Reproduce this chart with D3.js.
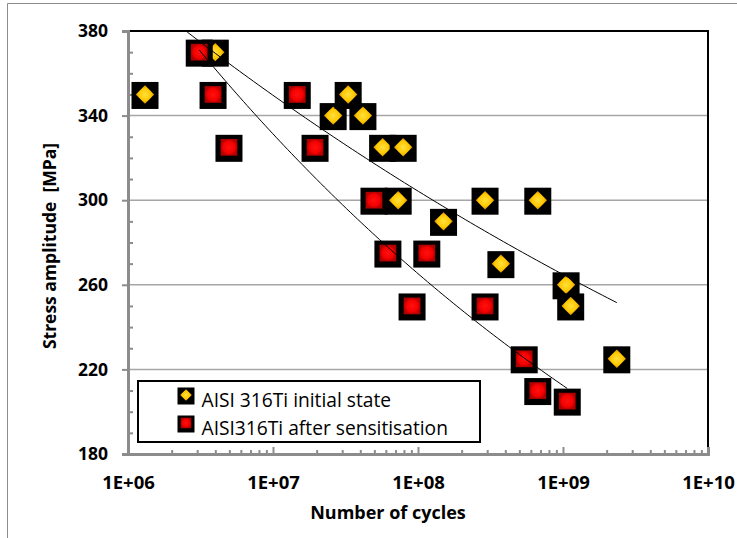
<!DOCTYPE html>
<html lang="en">
  <head>
    <meta charset="utf-8">
    <title>S-N curve</title>
    <script src="https://d3js.org/d3.v7.min.js"></script>
    <style>
      body { margin: 0; background: #fff; }
      text { font-family: "Open Sans", sans-serif; }
    </style>
  </head>
  <body>
    <div id="chart"></div>
    <script>
      // Series: number of cycles and stress amplitude [MPa]
      var initialCycles = [1.31e6, 4.0e6, 2.6e7, 3.3e7, 4.17e7, 5.7e7, 7.9e7, 7.3e7,
                           1.5e8, 2.9e8, 6.7e8, 3.73e8, 1.05e9, 1.13e9, 2.35e9];
      var initialStress = [350, 370, 340, 350, 340, 325, 325, 300,
                           290, 300, 300, 270, 260, 250, 225];
      var sensCycles = [3.1e6, 3.86e6, 4.97e6, 1.47e7, 1.95e7, 4.97e7, 6.2e7,
                        1.15e8, 9.1e7, 2.9e8, 5.4e8, 6.7e8, 1.07e9];
      var sensStress = [370, 350, 325, 350, 325, 300, 275,
                        275, 250, 250, 225, 210, 205];
      var seriesNames = ["AISI 316Ti initial state", "AISI316Ti after sensitisation"];
      var xTicks = [1e6, 1e7, 1e8, 1e9, 1e10];
      var yTicks = [180, 220, 260, 300, 340, 380];

      var W = 737, H = 538;
      var pL = 128, pR = 708, pT = 31, pB = 454;

      var svg = d3.select("#chart").append("svg")
          .attr("width", W)
          .attr("height", H);

      // outer chart frame (only top and left edges are in view)
      svg.append("path")
          .attr("d", "M7.5," + H + "V3.5H" + W)
          .attr("fill", "none")
          .attr("stroke", "#8c8c8c")
          .attr("stroke-width", 1);

      var x = d3.scaleLog().domain([1e6, 1e10]).range([pL, pR]);
      var y = d3.scaleLinear().domain([180, 380]).range([pB, pT]);

      var defs = svg.append("defs");
      var gr = defs.append("radialGradient").attr("id", "gRed");
      gr.append("stop").attr("offset", "0%").attr("stop-color", "#ff1010");
      gr.append("stop").attr("offset", "70%").attr("stop-color", "#f40000");
      gr.append("stop").attr("offset", "100%").attr("stop-color", "#b00000");
      var gy = defs.append("radialGradient").attr("id", "gYel");
      gy.append("stop").attr("offset", "0%").attr("stop-color", "#ffe040");
      gy.append("stop").attr("offset", "65%").attr("stop-color", "#ffc800");
      gy.append("stop").attr("offset", "100%").attr("stop-color", "#d89000");
      defs.append("clipPath").attr("id", "plotClip")
        .append("rect")
          .attr("x", pL).attr("y", pT)
          .attr("width", pR - pL).attr("height", pB - pT);

      // horizontal gridlines
      svg.append("g")
          .selectAll("line")
          .data(yTicks.filter(function(d) { return d > 180 && d < 380; }))
          .enter().append("line")
          .attr("x1", pL).attr("x2", pR)
          .attr("y1", function(d) { return y(d); })
          .attr("y2", function(d) { return y(d); })
          .attr("stroke", "#a6a6a6")
          .attr("stroke-width", 1.5);

      // plot frame top / right
      svg.append("path")
          .attr("d", "M" + pL + "," + pT + "H" + pR + "V" + pB)
          .attr("fill", "none")
          .attr("stroke", "#000")
          .attr("stroke-width", 2);

      function boldLabels(g, size) {
        g.selectAll("text")
          .attr("fill", "#000")
          .attr("font-family", "'Open Sans', sans-serif")
          .attr("font-weight", "bold")
          .attr("font-size", size);
      }

      // y axis: major ticks outward, minor ticks inward
      var yMinor = d3.range(190, 380, 10).filter(function(d) { return (d - 180) % 40 !== 0; });
      svg.append("g")
          .attr("transform", "translate(" + pL + ",0)")
          .call(d3.axisLeft(y).tickValues(yMinor).tickSize(-5).tickFormat(""))
          .call(function(g) {
            g.select(".domain").remove();
            g.selectAll("line").attr("stroke", "#8c8c8c").attr("stroke-width", 2);
          });
      svg.append("g")
          .attr("transform", "translate(" + pL + ",0)")
          .call(d3.axisLeft(y).tickValues(yTicks).tickSize(6).tickPadding(14))
          .call(function(g) {
            g.select(".domain").attr("stroke", "#8c8c8c").attr("stroke-width", 3);
            g.selectAll("line").attr("stroke", "#8c8c8c").attr("stroke-width", 2);
            boldLabels(g, 17.5);
          });

      // x axis: ticks inward
      var xMinor = [];
      xTicks.slice(0, -1).forEach(function(d) {
        for (var k = 2; k <= 9; k++) xMinor.push(d * k);
      });
      svg.append("g")
          .attr("transform", "translate(0," + pB + ")")
          .call(d3.axisBottom(x).tickValues(xMinor).tickSize(-4).tickFormat(""))
          .call(function(g) {
            g.select(".domain").remove();
            g.selectAll("line").attr("stroke", "#8c8c8c").attr("stroke-width", 2);
          });
      svg.append("g")
          .attr("transform", "translate(0," + pB + ")")
          .call(d3.axisBottom(x).tickValues(xTicks).tickSize(-7).tickPadding(22)
            .tickFormat(function(d) { return "1E+" + String(Math.round(Math.log10(d))).padStart(2, "0"); }))
          .call(function(g) {
            g.select(".domain").attr("stroke", "#8c8c8c").attr("stroke-width", 3);
            g.selectAll("line").attr("stroke", "#8c8c8c").attr("stroke-width", 2);
            boldLabels(g, 18.5);
          });

      // axis titles
      svg.append("text")
          .attr("x", 388).attr("y", 519)
          .attr("text-anchor", "middle")
          .attr("font-weight", "bold")
          .attr("font-size", 18)
          .text("Number of cycles");
      svg.append("text")
          .attr("transform", "translate(55.5,246) rotate(-90)")
          .attr("text-anchor", "middle")
          .attr("font-weight", "bold")
          .attr("font-size", 17.5)
          .style("white-space", "pre")
          .text("Stress amplitude  [MPa]");

      var initial = initialCycles.map(function(n, i) { return {n: n, s: initialStress[i]}; });
      var sens = sensCycles.map(function(n, i) { return {n: n, s: sensStress[i]}; });

      function drawMarker(g, kind, size) {
        var b = size, h = size * 0.62;
        g.append("rect")
            .attr("x", -b / 2).attr("y", -b / 2 + 1)
            .attr("width", b).attr("height", b)
            .attr("fill", "#000");
        if (kind === "red") {
          g.append("rect")
              .attr("x", -h / 2).attr("y", -h / 2)
              .attr("width", h).attr("height", h)
              .attr("fill", "url(#gRed)");
        } else {
          var d = h * 0.55;
          g.append("path")
              .attr("d", "M0," + (-d) + "L" + d + ",0L0," + d + "L" + (-d) + ",0Z")
              .attr("fill", "url(#gYel)");
        }
      }

      var plot = svg.append("g").attr("clip-path", "url(#plotClip)");

      [[initial, "yel"], [sens, "red"]].forEach(function(pair) {
        plot.append("g").selectAll("g")
            .data(pair[0])
            .enter().append("g")
            .attr("transform", function(d) { return "translate(" + x(d.n) + "," + y(d.s) + ")"; })
            .each(function() { drawMarker(d3.select(this), pair[1], 27); });
      });

      // power-law trendlines (least squares in log-log, as the spreadsheet does)
      function powerFit(data) {
        var lx = data.map(function(d) { return Math.log(d.n); });
        var ly = data.map(function(d) { return Math.log(d.s); });
        var mx = d3.mean(lx), my = d3.mean(ly);
        var sxy = d3.sum(lx, function(v, i) { return (v - mx) * (ly[i] - my); });
        var sxx = d3.sum(lx, function(v) { return (v - mx) * (v - mx); });
        var b = sxy / sxx, a = Math.exp(my - b * mx);
        return function(n) { return a * Math.pow(n, b); };
      }
      var line = d3.line()
          .x(function(d) { return x(d.n); })
          .y(function(d) { return y(d.s); });
      [initial, sens].forEach(function(data) {
        var f = powerFit(data);
        var ext = d3.extent(data, function(d) { return d.n; });
        var pts = d3.range(0, 101).map(function(i) {
          var n = Math.pow(10, Math.log10(ext[0]) + i / 100 * (Math.log10(ext[1]) - Math.log10(ext[0])));
          return {n: n, s: f(n)};
        });
        plot.append("path")
            .attr("d", line(pts))
            .attr("fill", "none")
            .attr("stroke", "#000")
            .attr("stroke-width", 1);
      });

      // legend
      var legend = svg.append("g");
      legend.append("rect")
          .attr("x", 138).attr("y", 381)
          .attr("width", 342).attr("height", 61)
          .attr("fill", "#fff")
          .attr("stroke", "#000")
          .attr("stroke-width", 2);
      seriesNames.forEach(function(name, i) {
        var row = legend.append("g").attr("transform", "translate(186," + (395 + i * 28) + ")");
        drawMarker(row, i === 0 ? "yel" : "red", 17);
        row.append("text")
            .attr("x", 15.5).attr("y", 11.5)
            .attr("font-size", 19.2)
            .text(name);
      });
    </script>
  </body>
</html>
